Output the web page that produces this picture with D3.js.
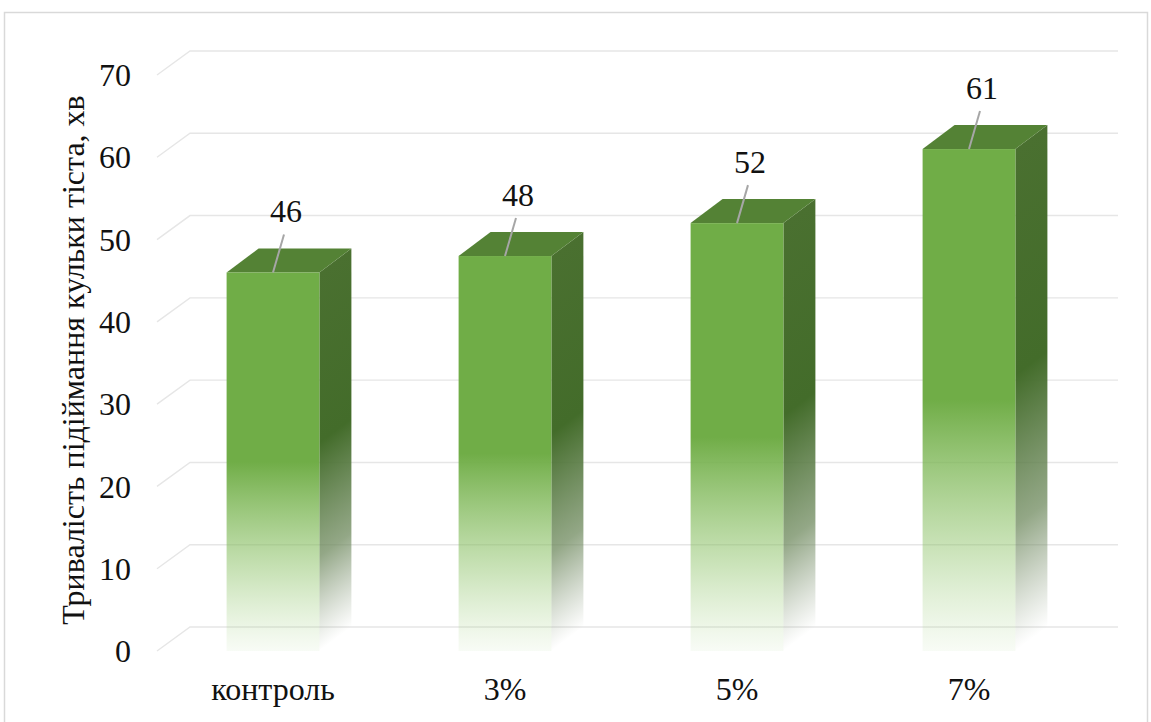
<!DOCTYPE html>
<html>
<head>
<meta charset="utf-8">
<script src="https://cdn.jsdelivr.net/npm/d3@7"></script>
<style>
  html, body { margin: 0; padding: 0; background: #fff; }
  svg { display: block; }
</style>
</head>
<body>
<svg id="chart" width="1151" height="722"></svg>
<script>
const categories = ["контроль", "3%", "5%", "7%"];
const values = [46, 48, 52, 61];
const yTicks = [0, 10, 20, 30, 40, 50, 60, 70];
const yTitle = "Тривалість підіймання кульки тіста, хв";

const FONT = "Liberation Serif";
const FS = 32;
const svg = d3.select("#chart");

// frame
svg.append("rect")
  .attr("x", 4.5).attr("y", 12.5).attr("width", 1143).attr("height", 720)
  .attr("fill", "#fff").attr("stroke", "#d9d9d9").attr("stroke-width", 1.5);

const front = { left: 157, right: 1085, top: 75, bottom: 651 };
const gridDepth = { dx: 33, dy: -24 };
const barDepth = { dx: 32, dy: -24 };

const y = d3.scaleLinear().domain([0, 70]).range([front.bottom, front.top]);
const x = d3.scaleBand().domain(categories).range([front.left, front.right])
  .paddingInner(0.6).paddingOuter(0.3);

const defs = svg.append("defs");
const gFront = defs.append("linearGradient").attr("id", "gFront")
  .attr("x1", 0).attr("y1", 0).attr("x2", 0).attr("y2", 1);
gFront.append("stop").attr("offset", 0).attr("stop-color", "#70ad47").attr("stop-opacity", 1);
gFront.append("stop").attr("offset", 0.5).attr("stop-color", "#70ad47").attr("stop-opacity", 1);
gFront.append("stop").attr("offset", 0.8).attr("stop-color", "#8cc266").attr("stop-opacity", 0.45);
gFront.append("stop").attr("offset", 1).attr("stop-color", "#a8d48a").attr("stop-opacity", 0.08);

const gSide = defs.append("linearGradient").attr("id", "gSide")
  .attr("x1", 0).attr("y1", 0).attr("x2", 0).attr("y2", 1);
gSide.append("stop").attr("offset", 0).attr("stop-color", "#4a7030").attr("stop-opacity", 1);
gSide.append("stop").attr("offset", 0.45).attr("stop-color", "#436c2a").attr("stop-opacity", 1);
gSide.append("stop").attr("offset", 0.75).attr("stop-color", "#6f8a5e").attr("stop-opacity", 0.75);
gSide.append("stop").attr("offset", 1).attr("stop-color", "#8a9a80").attr("stop-opacity", 0);

// gridlines (3D: diagonal on the side wall, horizontal on back wall)
svg.append("g").selectAll("path").data(yTicks).join("path")
  .attr("d", t => {
    const yf = y(t);
    return `M${front.left},${yf} L${front.left + gridDepth.dx},${yf + gridDepth.dy} L${front.right + gridDepth.dx},${yf + gridDepth.dy}`;
  })
  .attr("fill", "none").attr("stroke", "#e6e6e6").attr("stroke-width", 1.4);

// tick labels
svg.append("g").selectAll("text").data(yTicks).join("text")
  .attr("x", 131).attr("y", t => y(t))
  .attr("dy", "0.35em")
  .attr("text-anchor", "end")
  .style("font-family", FONT).attr("font-size", FS).attr("fill", "#111")
  .text(t => t);

// bars
const bars = svg.append("g").selectAll("g").data(categories.map((c, i) => ({ c, v: values[i] })))
  .join("g");

bars.each(function (d) {
  const g = d3.select(this);
  const x0 = x(d.c), w = x.bandwidth();
  const yt = y(d.v), yb = y(0);
  g.append("g")
    .attr("transform", `translate(${x0 + w},0) matrix(1,${barDepth.dy / barDepth.dx},0,1,0,0)`)
    .append("rect")
    .attr("x", 0).attr("y", yt).attr("width", barDepth.dx).attr("height", yb - yt)
    .attr("fill", "url(#gSide)");
  g.append("path")
    .attr("d", `M${x0},${yt} L${x0 + w},${yt} L${x0 + w + barDepth.dx},${yt + barDepth.dy} L${x0 + barDepth.dx},${yt + barDepth.dy} Z`)
    .attr("fill", "#548235");
  g.append("rect")
    .attr("x", x0).attr("y", yt).attr("width", w).attr("height", yb - yt)
    .attr("fill", "url(#gFront)");
  const cx = x0 + w / 2;
  g.append("line")
    .attr("x1", cx).attr("y1", yt).attr("x2", cx + 11).attr("y2", yt - 38)
    .attr("stroke", "#a6a6a6").attr("stroke-width", 2);
  g.append("text")
    .attr("x", cx + 13).attr("y", yt - 50)
    .attr("text-anchor", "middle")
    .style("font-family", FONT).attr("font-size", FS).attr("fill", "#111")
    .text(d.v);
});

// category labels
svg.append("g").selectAll("text").data(categories).join("text")
  .attr("x", c => x(c) + x.bandwidth() / 2).attr("y", 700)
  .attr("text-anchor", "middle")
  .style("font-family", FONT).attr("font-size", FS).attr("fill", "#111")
  .text(c => c);

// y axis title
svg.append("text")
  .attr("transform", `translate(84,360) rotate(-90)`)
  .attr("text-anchor", "middle")
  .style("font-family", FONT).attr("font-size", FS).attr("fill", "#111")
  .text(yTitle);
</script>
</body>
</html>
